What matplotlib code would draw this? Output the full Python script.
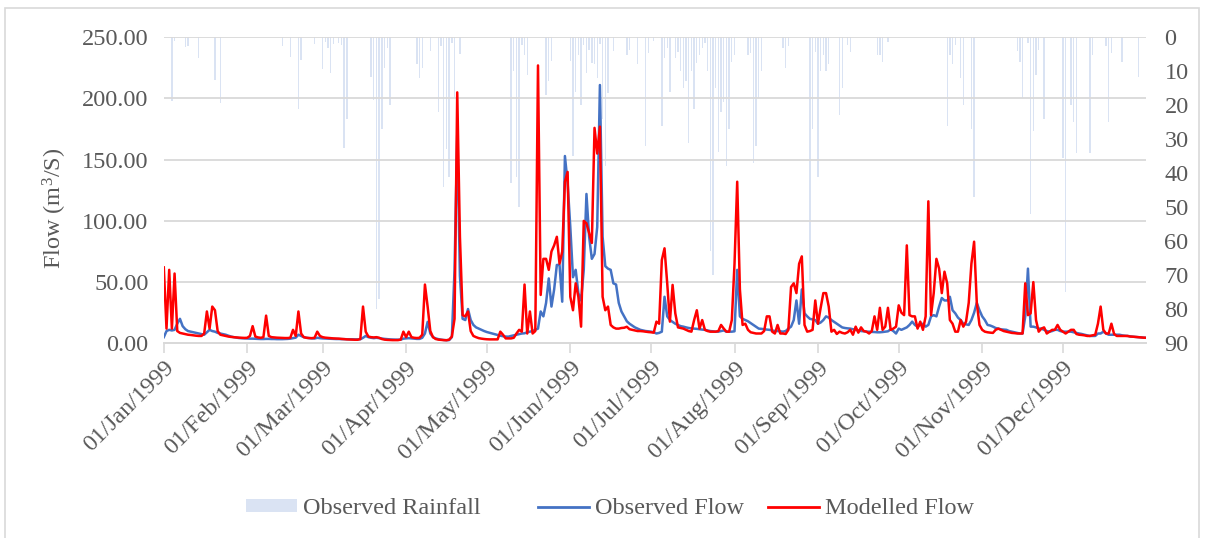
import matplotlib
matplotlib.use('Agg')
import matplotlib.pyplot as plt
import matplotlib.dates as mdates
from matplotlib.patches import Patch, Rectangle
from matplotlib.lines import Line2D
import pandas as pd

# Daily observed flow (m3/s), 01/Jan/1999 - 01/Jan/2000
obs_jan = [5, 10, 11, 10.5, 11, 16, 20, 14, 11.5, 10, 9.5, 9, 8.5, 8, 7.5, 7, 9, 11, 10, 9.5, 8.5, 8, 7.5, 7, 6.2,
           5.5, 5, 4.6, 4.3, 4.1, 4]
obs_feb = [3.9, 3.8, 3.8, 3.7, 3.6, 3.5, 3.5, 3.6, 3.6, 3.5, 3.5, 3.4, 3.4, 3.4, 3.5, 3.6, 3.8, 4.2, 4.6, 7, 6, 5,
           4.5, 4.2, 4, 3.9, 4.5, 4.2]
obs_mar = [4, 3.9, 3.8, 3.7, 3.6, 3.5, 3.5, 3.4, 3.4, 3.3, 3.3, 3.3, 3.2, 3.2, 3.3, 4.5, 6, 5, 4.5, 4.2, 4.5, 4.2,
           3.9, 3.6, 3.4, 3.2, 3.1, 3, 3, 3, 3.8]
obs_apr = [4, 4.2, 4, 3.8, 3.6, 3.6, 4.5, 8, 17.5, 8, 5, 4, 3.4, 3, 2.7, 2.5, 2.6, 5, 60, 170, 55, 20, 19, 28, 19,
           15, 13, 12, 11, 10]
obs_may = [9.2, 8.6, 8, 7.4, 6.8, 6.2, 5.8, 5.5, 5.4, 6, 6.5, 7, 7.5, 8, 8.2, 9, 9.5, 10, 11, 12, 26, 22, 33, 53,
           30, 44, 64, 64, 34, 153, 131]
obs_jun = [95, 54, 60, 41, 35, 60, 122, 87, 69, 73, 95, 211, 87, 63, 61, 60, 49, 48, 33, 26, 22, 18, 16, 14.5, 13,
           12, 11, 10.5, 10, 9.8]
obs_jul = [9.5, 9, 8, 8.5, 9.5, 38, 22, 19, 17.5, 16, 15, 14, 13.6, 13, 12.5, 12.2, 12, 11.8, 11.5, 11.2, 11, 10.5,
           10, 9.8, 9.5, 9.5, 10, 10.5, 9.5, 9.5, 9.5]
obs_aug = [9.8, 60, 22, 20, 19, 18, 16.5, 15, 13.5, 12, 11.8, 11.5, 11.2, 11, 10.5, 10, 10, 9.8, 9.5, 10, 12, 13.6,
           19, 35, 16, 44, 24.5, 22, 20, 19.5, 19]
obs_sep = [16, 17, 19, 22, 21, 19, 17.5, 16, 14.5, 13, 12.5, 12.2, 12, 11.5, 11, 10.5, 10, 9.8, 9.5, 9.5, 9.3, 9.2,
           9, 9, 9.2, 9.5, 9.8, 11.4, 10, 8]
obs_oct = [12, 11, 12, 13, 15, 17.7, 15, 13.6, 15, 16, 13.6, 15, 22, 23, 22, 30, 37, 35, 35, 38, 27, 24.5, 21, 19,
           16, 15.5, 15, 19, 25, 33, 27]
obs_nov = [22, 19, 15, 14.5, 13.6, 12.5, 12, 11.4, 11.2, 11, 10, 9.5, 9, 8.5, 8, 8, 22, 61, 13.6, 13.6, 13, 12, 12,
           11, 10, 9.5, 10, 11, 11, 10]
obs_dec = [9.5, 9.5, 9.5, 9.5, 9, 8.5, 8, 7.6, 7, 6.5, 6, 6, 6, 8, 8, 9.5, 8, 7, 7, 7, 7, 7, 6.5, 6.2, 6, 5.7, 5.4,
           5.2, 5, 4.8, 4.6, 4.5]

# Daily modelled flow (m3/s)
mod_jan = [62, 12, 60, 12, 57, 10, 8.5, 8, 7.5, 7, 6.8, 6.5, 6.2, 6, 6, 8, 26, 12, 30, 27, 10, 7, 6.5, 6, 5.5, 5.2,
           5, 4.8, 4.6, 4.5, 4.4]
mod_feb = [4.5, 6, 14, 5.5, 4.8, 4.5, 5, 22.6, 6, 5, 4.8, 4.6, 4.5, 4.4, 4.3, 4.3, 4.5, 11, 6, 26, 8, 5, 4.5, 4.3,
           4.2, 4.5, 9.5, 6]
mod_mar = [5, 4.6, 4.4, 4.2, 4, 3.9, 3.8, 3.6, 3.4, 3.2, 3.1, 3, 2.9, 2.9, 3.5, 30, 9.5, 5.5, 5, 4.8, 5, 4.5, 3.5,
           3, 2.8, 2.7, 2.6, 2.6, 2.6, 3, 9.5]
mod_apr = [5, 9.5, 5, 4.5, 4.3, 4.5, 7, 48, 30, 10, 5, 3.5, 3, 2.8, 2.6, 2.5, 3, 5.5, 20, 205, 87, 23, 22, 26, 10,
           6, 5, 4.2, 3.8, 3.5]
mod_may = [3.3, 3.2, 3.2, 3.2, 3.2, 9.5, 7, 4, 4, 4, 4.5, 8, 11, 9.5, 48, 8, 26, 8, 10, 227, 39.5, 69, 69, 60, 75,
           80, 87, 65, 75, 132, 140]
mod_jun = [38, 27, 49, 38, 13.6, 100, 98, 90, 82, 176, 155, 177, 38, 27, 30, 15, 13, 12, 12, 12.5, 12.7, 13.5, 11.5,
           11, 10.5, 10, 10, 9.8, 9.5, 9.2]
mod_jul = [9, 8.7, 17.7, 16, 68, 77.6, 49, 17.7, 47.7, 24.5, 13, 12.5, 12, 11, 10, 9.5, 19, 27, 12, 19, 11, 10, 9.5,
           9.5, 9.5, 10, 15, 12, 9.5, 9.5, 19]
mod_aug = [65, 132, 44, 15, 16, 11, 9, 8.5, 8, 8, 8, 10, 22, 22, 9.5, 8, 15, 8, 8, 7.6, 11, 46, 49, 41, 65, 71, 15,
           9.5, 10, 11, 35]
mod_sep = [16, 29, 41, 41, 30, 9.5, 11, 7.6, 9.5, 8.5, 8, 9, 11, 7, 13.6, 8.7, 13, 10, 9.5, 8, 10, 22, 11, 29, 11,
           13.6, 29, 11, 12, 13.6]
mod_oct = [31, 25, 23, 80, 23, 22, 22, 12, 17.7, 11, 22, 116, 23, 41, 69, 61, 41, 58.5, 49, 19, 16, 9.5, 9.5, 19,
           13.6, 17.7, 33, 65, 83, 33, 15]
mod_nov = [11, 9.5, 9, 8.7, 8.5, 11, 12, 11, 10, 9.5, 9, 8.5, 8.3, 8, 8, 8, 49, 23, 24.5, 50, 19, 9.5, 12, 13, 8,
           9.5, 11, 11, 15, 11]
mod_dec = [9.5, 8, 9.5, 11, 11, 7.6, 7, 6.8, 6.5, 6, 6, 6.5, 7, 16, 30, 11, 8, 8, 16, 7.6, 6, 6, 6, 6, 6, 5.5, 5.4,
           5.2, 5, 4.8, 4.6, 4.5]

# Observed rainfall (mm): day of year (0 = 01/Jan) and depth
rain_day = [3, 4, 8, 9, 13, 19, 21, 44, 47, 50, 51, 56, 59, 60, 61, 62, 63, 65, 66, 67, 68, 77, 78, 79, 80, 81, 82,
            83, 84, 94, 95, 96, 99, 102, 103, 104, 105, 106, 107, 108, 110, 129, 130, 131, 132, 133, 134, 135, 142,
            143, 144, 151, 152, 153, 154, 155, 156, 157, 158, 159, 160, 161, 162, 163, 164, 165, 167, 172, 173, 176,
            179, 180, 182, 185, 186, 187, 188, 190, 191, 192, 193, 194, 195, 196, 197, 198, 199, 200, 201, 202, 203,
            204, 205, 206, 207, 208, 209, 210, 211, 212, 217, 218, 219, 220, 221, 222, 230, 231, 232, 240, 241, 242,
            243, 244, 245, 246, 247, 251, 252, 254, 255, 265, 266, 267, 269, 291, 292, 293, 294, 296, 297, 300, 301,
            317, 318, 319, 321, 322, 323, 324, 325, 327, 334, 335, 337, 338, 339, 344, 345, 350, 351, 352, 356, 362]
rain_mm = [18.6, 1, 3, 2.5, 6, 12.5, 19.4, 2.7, 5.7, 21, 6.7, 2, 9.4, 1.3, 3.2, 10.4, 2, 1.6, 2.3, 32.6, 24, 11.6,
           18.4, 80, 77, 27, 9, 3.2, 20, 8, 12, 9, 4, 22, 2.7, 44, 33, 41, 1.8, 18, 5, 43, 10, 41, 50, 2.2, 5.2, 11,
           17, 13, 7, 7, 35, 16, 5.2, 20, 2.2, 10.6, 3.7, 7.6, 8, 12, 2, 24, 38, 16.5, 4, 5.2, 3.7, 8, 32, 4.7, 1,
           26, 6, 3.2, 16, 6, 4.2, 10, 15, 13, 31, 10, 21, 7.6, 5.2, 3.2, 1.8, 10, 63, 70, 15, 33.6, 22, 19, 38, 27,
           7.2, 5.2, 5.2, 4.7, 37, 32, 18, 10, 3.2, 9, 2.7, 72, 27, 4.2, 41, 10, 5.2, 10, 8, 23, 15, 2.2, 4.2, 5.2,
           5.2, 7.2, 1.3, 26, 5.2, 8, 2.2, 12, 20, 27, 47, 4, 7.2, 18, 1.8, 52, 27.5, 11, 3.7, 24, 35.6, 75, 20, 25,
           34, 34, 5.2, 2.7, 25, 4.7, 7.2, 11.6]

series_names = ['Observed Rainfall', 'Observed Flow', 'Modelled Flow']

obs_flow = (obs_jan + obs_feb + obs_mar + obs_apr + obs_may + obs_jun + obs_jul + obs_aug + obs_sep + obs_oct
            + obs_nov + obs_dec)
mod_flow = (mod_jan + mod_feb + mod_mar + mod_apr + mod_may + mod_jun + mod_jul + mod_aug + mod_sep + mod_oct
            + mod_nov + mod_dec)

dates = pd.date_range('1999-01-01', periods=len(obs_flow), freq='D')
rain_dates = pd.Timestamp('1999-01-01') + pd.to_timedelta(rain_day, unit='D')

text_color = '#595959'
grid_color = '#d9d9d9'
rain_color = '#dae3f3'
obs_color = '#4472c4'
mod_color = '#ff0000'
fs = 17.5

plt.rcParams['font.family'] = ['Liberation Serif', 'DejaVu Serif']
plt.rcParams['mathtext.fontset'] = 'custom'
plt.rcParams['mathtext.rm'] = 'Liberation Serif'
plt.rcParams['mathtext.it'] = 'Liberation Serif:italic'

fig = plt.figure(figsize=(12.08, 5.38), dpi=100)
ax = fig.add_axes([0.1356, 0.3619, 0.8134, 0.5688])
ax2 = ax.twinx()

# rainfall hangs from the top of the secondary (inverted) axis
ax2.bar(rain_dates, rain_mm, width=0.5, color=rain_color, linewidth=0)
ax2.set_ylim(90, 0)
ax2.set_yticks(range(0, 91, 10))
ax2.tick_params(axis='y', length=0, pad=13, labelsize=fs, labelcolor=text_color)

# flow lines above the rainfall
ax.set_zorder(ax2.get_zorder() + 1)
ax.patch.set_visible(False)
ax.plot(dates, obs_flow, color=obs_color, linewidth=1.8)
ax.plot(dates, mod_flow, color=mod_color, linewidth=1.8)

ax.set_ylim(0, 250)
ax.set_yticks(range(0, 251, 50))
ax.set_yticklabels(['%.2f' % v for v in range(0, 251, 50)])
ax.set_xlim(dates[0], dates[-1])
ax.grid(axis='y', color=grid_color, linewidth=1.3)
ax.set_axisbelow(True)
ax.tick_params(axis='y', length=0, pad=11, labelsize=fs, labelcolor=text_color)

month_starts = pd.date_range('1999-01-01', '1999-12-01', freq='MS')
ax.set_xticks(month_starts)
ax.xaxis.set_major_formatter(mdates.DateFormatter('%d/%b/%Y'))
ax.tick_params(axis='x', direction='out', length=7, width=1.2, color=grid_color, pad=3,
               labelsize=fs, labelcolor=text_color)
for lbl in ax.get_xticklabels():
    lbl.set_rotation(45)
    lbl.set_ha('right')
    lbl.set_va('top')
    lbl.set_rotation_mode('anchor')

for a in (ax, ax2):
    for side in ('top', 'left', 'right'):
        a.spines[side].set_visible(False)
    a.spines['bottom'].set_color(grid_color)
    a.spines['bottom'].set_linewidth(1.3)

ax.set_ylabel(r'Flow (m$^\mathrm{3}$/S)', fontsize=fs, color=text_color)
ax.yaxis.set_label_coords(-0.096, 0.44)

# legend entries placed one by one, like the uneven spacing of the original
handles = [Patch(facecolor=rain_color, edgecolor='none'),
           Line2D([], [], color=obs_color, linewidth=2),
           Line2D([], [], color=mod_color, linewidth=2)]
legend_x = [246, 538, 768]
for h, name, x in zip(handles, series_names, legend_x):
    fig.legend([h], [name], loc='center left', bbox_to_anchor=(x / 1208, 1 - 509 / 538),
               frameon=False, fontsize=fs, labelcolor=text_color, borderpad=0, borderaxespad=0,
               handlelength=2.1, handleheight=0.45, handletextpad=0.25)

# chart area border
fig.patches.append(Rectangle((5 / 1208, -0.01), 1194 / 1208, 1.0 - 8 / 538 + 0.01,
                             transform=fig.transFigure, fill=False, edgecolor=grid_color, linewidth=1.2))

fig.savefig('out.png', dpi=100)
